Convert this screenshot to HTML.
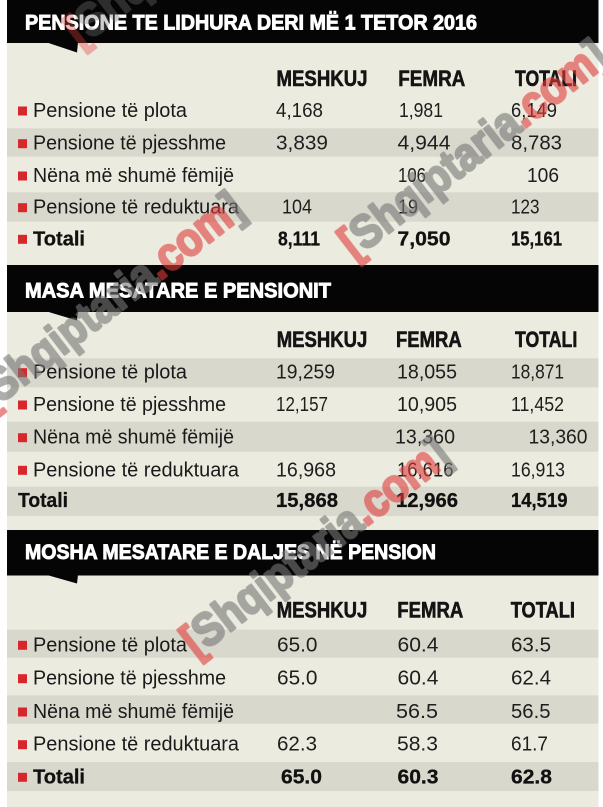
<!DOCTYPE html>
<html>
<head>
<meta charset="utf-8">
<style>
html,body{margin:0;padding:0;background:#fff;}
svg{display:block;}
text{font-family:"Liberation Sans",sans-serif;}
.t{fill:#fff;font-weight:bold;font-size:21px;stroke:#fff;stroke-width:0.9px;}
.h{fill:#141414;font-weight:bold;font-size:22px;stroke:#141414;stroke-width:0.6px;}
.l{fill:#1a1a1a;font-size:20px;}
.n{fill:#1e1e1e;font-size:20.5px;}
.b{fill:#111;font-weight:bold;font-size:20.5px;stroke:#111;stroke-width:0.3px;}
.wm{font-weight:bold;font-size:46px;stroke-width:2.5px;stroke-linejoin:round;}
.g{fill:#777;stroke:#777;}
.r{fill:#e03c3c;stroke:#e03c3c;}
</style>
</head>
<body>
<svg width="603" height="807" viewBox="0 0 603 807" xmlns="http://www.w3.org/2000/svg">
<rect x="0" y="0" width="603" height="807" fill="#ffffff"/>

<!-- Section 1 -->
<rect x="7" y="43" width="591.5" height="222" fill="#ecebdf"/>
<rect x="7" y="0" width="591.5" height="43" fill="#050505"/>
<polygon points="47,42.5 78,42.5 77,52.5" fill="#050505"/>
<rect x="7" y="128.3" width="591.5" height="28.4" fill="#d9d8cc"/>
<rect x="7" y="192.3" width="591.5" height="29.4" fill="#d9d8cc"/>

<!-- Section 2 -->
<rect x="7" y="265" width="591.5" height="47" fill="#050505"/>
<rect x="7" y="312" width="591.5" height="218" fill="#ecebdf"/>
<polygon points="47,311.5 78,311.5 77,320.5" fill="#050505"/>
<rect x="7" y="358.3" width="591.5" height="29" fill="#d9d8cc"/>
<rect x="7" y="421.7" width="591.5" height="30" fill="#d9d8cc"/>
<rect x="7" y="486.7" width="591.5" height="29.3" fill="#d9d8cc"/>

<!-- Section 3 -->
<rect x="7" y="530" width="591.5" height="45.5" fill="#050505"/>
<rect x="7" y="575.5" width="591.5" height="231.5" fill="#ecebdf"/>
<polygon points="47,575 78,575 77,583.5" fill="#050505"/>
<rect x="7" y="629.7" width="591.5" height="28" fill="#d9d8cc"/>
<rect x="7" y="695.3" width="591.5" height="28.4" fill="#d9d8cc"/>
<rect x="7" y="762" width="591.5" height="29" fill="#d9d8cc"/>

<!-- Titles -->
<text class="t" x="25" y="29.5" textLength="452" lengthAdjust="spacingAndGlyphs">PENSIONE TE LIDHURA DERI MË 1 TETOR 2016</text>
<text class="t" x="25" y="297.5" textLength="306" lengthAdjust="spacingAndGlyphs">MASA MESATARE E PENSIONIT</text>
<text class="t" x="25" y="559" textLength="411" lengthAdjust="spacingAndGlyphs">MOSHA MESATARE E DALJES NË PENSION</text>

<!-- Column headers -->
<text class="h" x="276.5" y="86" textLength="91" lengthAdjust="spacingAndGlyphs">MESHKUJ</text>
<text class="h" x="398.3" y="86" textLength="67" lengthAdjust="spacingAndGlyphs">FEMRA</text>
<text class="h" x="515" y="86" textLength="62" lengthAdjust="spacingAndGlyphs">TOTALI</text>

<text class="h" x="276.7" y="347" textLength="90.6" lengthAdjust="spacingAndGlyphs">MESHKUJ</text>
<text class="h" x="396" y="347" textLength="65.7" lengthAdjust="spacingAndGlyphs">FEMRA</text>
<text class="h" x="515" y="347" textLength="62.3" lengthAdjust="spacingAndGlyphs">TOTALI</text>

<text class="h" x="276.7" y="617.7" textLength="90.6" lengthAdjust="spacingAndGlyphs">MESHKUJ</text>
<text class="h" x="397.3" y="617.7" textLength="66" lengthAdjust="spacingAndGlyphs">FEMRA</text>
<text class="h" x="510.7" y="617.7" textLength="64.3" lengthAdjust="spacingAndGlyphs">TOTALI</text>

<!-- Bullets -->
<g fill="#d7262c">
<rect x="18" y="106.5" width="9" height="9"/>
<rect x="18" y="139.2" width="9" height="9"/>
<rect x="18" y="171.5" width="9" height="9"/>
<rect x="18" y="203.2" width="9" height="9"/>
<rect x="18" y="234.8" width="9" height="9"/>

<rect x="18" y="368.2" width="9" height="9"/>
<rect x="18" y="400.5" width="9" height="9"/>
<rect x="18" y="433.2" width="9" height="9"/>
<rect x="18" y="465.8" width="9" height="9"/>

<rect x="18" y="640.8" width="9" height="9"/>
<rect x="18" y="674.2" width="9" height="9"/>
<rect x="18" y="707.5" width="9" height="9"/>
<rect x="18" y="740.2" width="9" height="9"/>
<rect x="18" y="772.8" width="9" height="9"/>
</g>

<!-- Labels section 1 -->
<text class="l" x="33" y="117" textLength="154" lengthAdjust="spacingAndGlyphs">Pensione të plota</text>
<text class="l" x="33" y="149.7" textLength="193" lengthAdjust="spacingAndGlyphs">Pensione të pjesshme</text>
<text class="l" x="33" y="182" textLength="201" lengthAdjust="spacingAndGlyphs">Nëna më shumë fëmijë</text>
<text class="l" x="33" y="213.7" textLength="206" lengthAdjust="spacingAndGlyphs">Pensione të reduktuara</text>
<text class="b" x="33" y="245.3" textLength="52" lengthAdjust="spacingAndGlyphs">Totali</text>

<!-- Labels section 2 -->
<text class="l" x="33" y="378.7" textLength="154" lengthAdjust="spacingAndGlyphs">Pensione të plota</text>
<text class="l" x="33" y="411" textLength="193" lengthAdjust="spacingAndGlyphs">Pensione të pjesshme</text>
<text class="l" x="33" y="443.7" textLength="201" lengthAdjust="spacingAndGlyphs">Nëna më shumë fëmijë</text>
<text class="l" x="33" y="476.3" textLength="206" lengthAdjust="spacingAndGlyphs">Pensione të reduktuara</text>
<text class="b" x="18" y="507" textLength="50" lengthAdjust="spacingAndGlyphs">Totali</text>

<!-- Labels section 3 -->
<text class="l" x="33" y="651.3" textLength="154" lengthAdjust="spacingAndGlyphs">Pensione të plota</text>
<text class="l" x="33" y="684.7" textLength="193" lengthAdjust="spacingAndGlyphs">Pensione të pjesshme</text>
<text class="l" x="33" y="718" textLength="201" lengthAdjust="spacingAndGlyphs">Nëna më shumë fëmijë</text>
<text class="l" x="33" y="750.7" textLength="206" lengthAdjust="spacingAndGlyphs">Pensione të reduktuara</text>
<text class="b" x="33" y="783.3" textLength="52" lengthAdjust="spacingAndGlyphs">Totali</text>

<!-- Numbers section 1 -->
<text class="n" x="276" y="117" textLength="47" lengthAdjust="spacingAndGlyphs">4,168</text>
<text class="n" x="399" y="117" textLength="44" lengthAdjust="spacingAndGlyphs">1,981</text>
<text class="n" x="511" y="117" textLength="46" lengthAdjust="spacingAndGlyphs">6,149</text>
<text class="n" x="276" y="149.7" textLength="52" lengthAdjust="spacingAndGlyphs">3,839</text>
<text class="n" x="397.5" y="149.7" textLength="53" lengthAdjust="spacingAndGlyphs">4,944</text>
<text class="n" x="511" y="149.7" textLength="51" lengthAdjust="spacingAndGlyphs">8,783</text>
<text class="n" x="398" y="182" textLength="28" lengthAdjust="spacingAndGlyphs">106</text>
<text class="n" x="527" y="182" textLength="32" lengthAdjust="spacingAndGlyphs">106</text>
<text class="n" x="282" y="213.7" textLength="30" lengthAdjust="spacingAndGlyphs">104</text>
<text class="n" x="398" y="213.7" textLength="20" lengthAdjust="spacingAndGlyphs">19</text>
<text class="n" x="511" y="213.7" textLength="28.5" lengthAdjust="spacingAndGlyphs">123</text>
<text class="b" x="278" y="245.3" textLength="42" lengthAdjust="spacingAndGlyphs">8,111</text>
<text class="b" x="397.5" y="245.3" textLength="53" lengthAdjust="spacingAndGlyphs">7,050</text>
<text class="b" x="511" y="245.3" textLength="51" lengthAdjust="spacingAndGlyphs">15,161</text>

<!-- Numbers section 2 -->
<text class="n" x="276" y="378.7" textLength="59" lengthAdjust="spacingAndGlyphs">19,259</text>
<text class="n" x="397" y="378.7" textLength="60" lengthAdjust="spacingAndGlyphs">18,055</text>
<text class="n" x="511" y="378.7" textLength="53" lengthAdjust="spacingAndGlyphs">18,871</text>
<text class="n" x="276" y="411" textLength="52" lengthAdjust="spacingAndGlyphs">12,157</text>
<text class="n" x="397" y="411" textLength="60" lengthAdjust="spacingAndGlyphs">10,905</text>
<text class="n" x="511" y="411" textLength="53" lengthAdjust="spacingAndGlyphs">11,452</text>
<text class="n" x="395" y="443.7" textLength="60" lengthAdjust="spacingAndGlyphs">13,360</text>
<text class="n" x="528.5" y="443.7" textLength="59" lengthAdjust="spacingAndGlyphs">13,360</text>
<text class="n" x="276" y="476.3" textLength="60" lengthAdjust="spacingAndGlyphs">16,968</text>
<text class="n" x="397" y="476.3" textLength="56.5" lengthAdjust="spacingAndGlyphs">16,616</text>
<text class="n" x="511" y="476.3" textLength="54" lengthAdjust="spacingAndGlyphs">16,913</text>
<text class="b" x="276" y="507" textLength="62" lengthAdjust="spacingAndGlyphs">15,868</text>
<text class="b" x="396" y="507" textLength="62" lengthAdjust="spacingAndGlyphs">12,966</text>
<text class="b" x="511" y="507" textLength="56.5" lengthAdjust="spacingAndGlyphs">14,519</text>

<!-- Numbers section 3 -->
<text class="n" x="277" y="651.3" textLength="40.5" lengthAdjust="spacingAndGlyphs">65.0</text>
<text class="n" x="397.5" y="651.3" textLength="41" lengthAdjust="spacingAndGlyphs">60.4</text>
<text class="n" x="511" y="651.3" textLength="40" lengthAdjust="spacingAndGlyphs">63.5</text>
<text class="n" x="277" y="684.7" textLength="40.5" lengthAdjust="spacingAndGlyphs">65.0</text>
<text class="n" x="397.5" y="684.7" textLength="41" lengthAdjust="spacingAndGlyphs">60.4</text>
<text class="n" x="511" y="684.7" textLength="40" lengthAdjust="spacingAndGlyphs">62.4</text>
<text class="n" x="396" y="718" textLength="42" lengthAdjust="spacingAndGlyphs">56.5</text>
<text class="n" x="511" y="718" textLength="39.5" lengthAdjust="spacingAndGlyphs">56.5</text>
<text class="n" x="277" y="750.7" textLength="40" lengthAdjust="spacingAndGlyphs">62.3</text>
<text class="n" x="397" y="750.7" textLength="41" lengthAdjust="spacingAndGlyphs">58.3</text>
<text class="n" x="511" y="750.7" textLength="37" lengthAdjust="spacingAndGlyphs">61.7</text>
<text class="b" x="281" y="783.3" textLength="41" lengthAdjust="spacingAndGlyphs">65.0</text>
<text class="b" x="397.5" y="783.3" textLength="41" lengthAdjust="spacingAndGlyphs">60.3</text>
<text class="b" x="511" y="783.3" textLength="41" lengthAdjust="spacingAndGlyphs">62.8</text>

<!-- Watermarks -->
<g opacity="0.6">
  <text class="wm" transform="translate(354,260) rotate(-37.6)" textLength="324" lengthAdjust="spacingAndGlyphs"><tspan class="r">[</tspan><tspan class="g">Shqiptaria</tspan><tspan class="r">.com</tspan><tspan class="g">]</tspan></text>
  <text class="wm" transform="translate(-10,412) rotate(-37.6)" textLength="324" lengthAdjust="spacingAndGlyphs"><tspan class="r">[</tspan><tspan class="g">Shqiptaria</tspan><tspan class="r">.com</tspan><tspan class="g">]</tspan></text>
  <text class="wm" transform="translate(196,658) rotate(-37.6)" textLength="324" lengthAdjust="spacingAndGlyphs"><tspan class="r">[</tspan><tspan class="g">Shqiptaria</tspan><tspan class="r">.com</tspan><tspan class="g">]</tspan></text>
  <text class="wm" transform="translate(80,48) rotate(-37.6)" textLength="324" lengthAdjust="spacingAndGlyphs" opacity="0.6"><tspan class="r">[</tspan><tspan class="g">Shqiptaria</tspan><tspan class="r">.com</tspan><tspan class="g">]</tspan></text>
</g>
</svg>
</body>
</html>
